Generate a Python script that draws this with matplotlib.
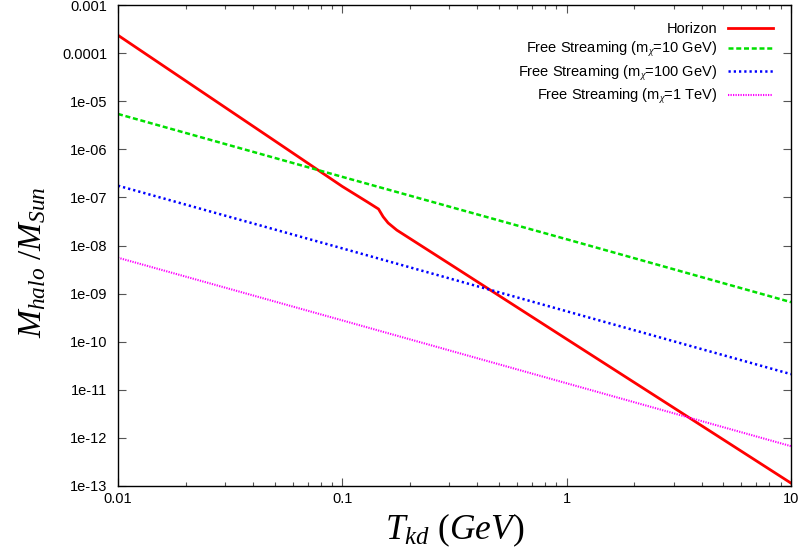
import numpy as np
import matplotlib
matplotlib.use("Agg")
import matplotlib.pyplot as plt
from matplotlib.ticker import FixedLocator, FixedFormatter, LogLocator, NullFormatter

plt.rcParams["font.family"] = ["Liberation Sans", "DejaVu Sans"]
plt.rcParams["mathtext.fontset"] = "custom"
plt.rcParams["mathtext.rm"] = "Liberation Serif"
plt.rcParams["mathtext.it"] = "Liberation Serif:italic"

# horizon mass vs kinetic decoupling temperature
t_horizon = [0.01, 0.05, 0.1, 0.13, 0.145, 0.152, 0.16, 0.175, 0.3, 1, 3, 10]
logm_horizon = [-3.62, -5.82, -6.77, -7.10, -7.24, -7.40, -7.53, -7.68, -8.38, -9.95, -11.38, -12.95]

# free streaming mass for three WIMP masses
t_fs = [0.01, 0.1, 1, 10]
logm_fs_10gev = [-5.26, -6.57, -7.87, -9.18]
logm_fs_100gev = [-6.754, -8.06, -9.37, -10.68]
logm_fs_1tev = [-8.254, -9.56, -10.87, -12.18]

ytick_vals = [10.0 ** k for k in range(-13, -2)]
ytick_labels = ["1e-13", "1e-12", "1e-11", "1e-10", "1e-09", "1e-08",
                "1e-07", "1e-06", "1e-05", "0.0001", "0.001"]
xtick_vals = [0.01, 0.1, 1, 10]
xtick_labels = ["0.01", "0.1", "1", "10"]

fig = plt.figure(figsize=(8.02, 5.48), dpi=100)
ax = fig.add_axes([0.1471, 0.114, 0.8392, 0.876])

ax.plot(t_horizon, 10.0 ** np.array(logm_horizon), color="#ff0000", lw=2.0,
        label="Horizon")
ax.plot(t_fs, 10.0 ** np.array(logm_fs_10gev), color="#00e000", lw=1.8,
        ls=(0, (2.0, 1.1)), label=r"Free Streaming (m$_\chi$=10 GeV)")
ax.plot(t_fs, 10.0 ** np.array(logm_fs_100gev), color="#0000ff", lw=1.8,
        ls=(0, (0.9, 1.2)), label=r"Free Streaming (m$_\chi$=100 GeV)")
ax.plot(t_fs, 10.0 ** np.array(logm_fs_1tev), color="#ff00ff", lw=1.5,
        ls=(0, (0.6, 0.6)), label=r"Free Streaming (m$_\chi$=1 TeV)")

ax.set_xscale("log")
ax.set_yscale("log")
ax.set_xlim(0.01, 10)
ax.set_ylim(1e-13, 1e-3)

ax.yaxis.set_major_locator(FixedLocator(ytick_vals))
ax.yaxis.set_major_formatter(FixedFormatter(ytick_labels))
ax.yaxis.set_minor_locator(FixedLocator([]))
ax.xaxis.set_major_locator(FixedLocator(xtick_vals))
ax.xaxis.set_major_formatter(FixedFormatter(xtick_labels))
ax.xaxis.set_minor_locator(LogLocator(base=10, subs=np.arange(2, 10)))
ax.xaxis.set_minor_formatter(NullFormatter())

ax.tick_params(which="both", direction="in", top=True, right=True,
               labelsize=10.5, width=0.8, color="#555555")
ax.tick_params(which="major", length=5.5)
ax.tick_params(which="minor", length=3)
ax.tick_params(axis="y", pad=7.5)
ax.tick_params(axis="x", pad=4.5)
for sp in ax.spines.values():
    sp.set_linewidth(1.0)

ax.set_xlabel(r"$T_{kd}\ (GeV)$", fontsize=25.5)
ax.set_ylabel(r"$M_{halo}\ /M_{Sun}$", fontsize=24)
ax.yaxis.set_label_coords(-0.104, 0.466)

ax.legend(loc="upper right", frameon=False, markerfirst=False, fontsize=10.5,
          handlelength=3.1, handletextpad=0.75, labelspacing=0.3,
          borderaxespad=0.0, bbox_to_anchor=(0.982, 0.978))

fig.savefig("out.png", dpi=100)
